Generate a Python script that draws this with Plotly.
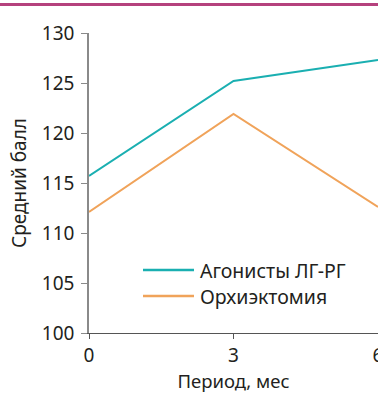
import plotly.graph_objects as go

months = [0, 3, 6]
series_names = ["Агонисты ЛГ-РГ", "Орхиэктомия"]
agonists = [115.7, 125.2, 127.3]
orchiectomy = [112.1, 121.9, 112.6]
y_ticks = [100, 105, 110, 115, 120, 125, 130]
x_ticks = [0, 3, 6]

colors = ["#1aafb1", "#f0a35a"]
FONT = "Noto Sans"
TEXT = "#231f20"

W, H = 378, 393
L, R, T, B = 89, 0, 33, 60
pw, ph = W - L - R, H - T - B

def px(x):
    return (x - L) / pw

def py(y):
    return (H - B - y) / ph

fig = go.Figure()
for name, vals, c in zip(series_names, [agonists, orchiectomy], colors):
    fig.add_trace(go.Scatter(x=months, y=vals, mode="lines", name=name,
                             line=dict(color=c, width=2), showlegend=False,
                             cliponaxis=False))

shapes = [dict(type="line", xref="paper", yref="paper", x0=px(0), x1=px(W),
               y0=py(4.5), y1=py(4.5), line=dict(color="#b5417d", width=3))]
annotations = []
for i, (name, c) in enumerate(zip(series_names, colors)):
    yy = 270 + 26 * i
    shapes.append(dict(type="line", xref="paper", yref="paper", x0=px(143), x1=px(194),
                       y0=py(yy), y1=py(yy), line=dict(color=c, width=2.5)))
    annotations.append(dict(text=name, xref="paper", yref="paper", x=px(198), y=py(yy),
                            xanchor="left", yanchor="middle", showarrow=False,
                            font=dict(family=FONT, size=19.5, color=TEXT)))

fig.update_layout(
    width=W, height=H, margin=dict(l=L, r=R, t=T, b=B, autoexpand=False),
    paper_bgcolor="white", plot_bgcolor="white",
    font=dict(family=FONT, color=TEXT),
    shapes=shapes, annotations=annotations,
    xaxis=dict(range=[0, 6], tickvals=x_ticks, showgrid=False, zeroline=False,
               automargin=False,
               showline=True, linecolor="#555555", linewidth=1.2,
               ticks="outside", ticklen=5, tickcolor="#555555",
               ticklabeloverflow="allow",
               tickfont=dict(family=FONT, size=19, color=TEXT),
               title=dict(text="Период, мес", font=dict(family=FONT, size=18.5, color=TEXT),
                          standoff=19)),
    yaxis=dict(range=[100, 130], tickvals=y_ticks, showgrid=False, zeroline=False,
               automargin=False,
               showline=True, linecolor="#8a8a8a", linewidth=1.5,
               ticks="outside", ticklen=6, tickcolor="#8a8a8a",
               ticklabelstandoff=3,
               tickfont=dict(family=FONT, size=19, color=TEXT),
               title=dict(text="Средний балл", font=dict(family=FONT, size=19, color=TEXT),
                          standoff=10)),
)

fig.write_html("out.html")
